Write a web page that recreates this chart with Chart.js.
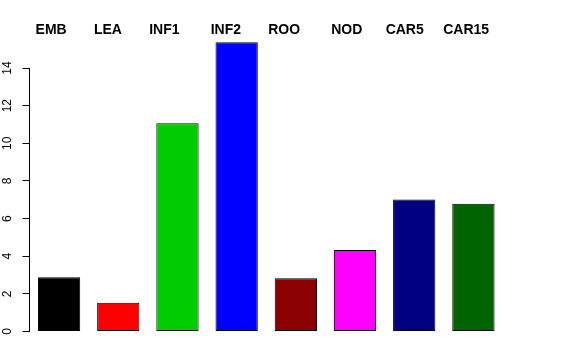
<!DOCTYPE html>
<html>
<head>
<meta charset="utf-8">
<script src="https://cdn.jsdelivr.net/npm/chart.js@4"></script>
<style>
  html, body { margin: 0; padding: 0; background: #fff; }
  #wrap { width: 576px; height: 360px; }
</style>
</head>
<body>
<div id="wrap"><canvas id="bars" width="576" height="360"></canvas></div>
<script>
const categories = ['EMB', 'LEA', 'INF1', 'INF2', 'ROO', 'NOD', 'CAR5', 'CAR15'];
const values = [2.88, 1.53, 11.06, 15.37, 2.83, 4.33, 7.02, 6.79];
const barColors = ['#000000', '#ff0000', '#00cd00', '#0000ff', '#8b0000', '#ff00ff', '#000080', '#006400'];
const yTicks = [0, 2, 4, 6, 8, 10, 12, 14];
const titleGaps = [7, 7, 8, 7, 8, 6, 5];

// R-style title: all names in one bold string separated by runs of spaces
let titleText = categories[0];
for (let i = 1; i < categories.length; i++) {
  titleText += ' '.repeat(titleGaps[i - 1]) + categories[i];
}
titleText += '  ';

const FONT = '"Liberation Sans", Arial, Helvetica, sans-serif';

// axis line from first to last tick, plus labels turned 90 degrees
const rAxis = {
  id: 'rAxis',
  afterDraw(chart) {
    const ctx = chart.ctx;
    const y = chart.scales.y;
    const x0 = chart.chartArea.left;
    ctx.save();
    ctx.strokeStyle = '#000';
    ctx.lineWidth = 1;
    ctx.beginPath();
    ctx.moveTo(x0, y.getPixelForValue(yTicks[0]));
    ctx.lineTo(x0, y.getPixelForValue(yTicks[yTicks.length - 1]));
    ctx.stroke();
    ctx.fillStyle = '#000';
    ctx.font = '12px ' + FONT;
    ctx.textAlign = 'center';
    ctx.textBaseline = 'middle';
    yTicks.forEach(v => {
      ctx.save();
      ctx.translate(7.5, y.getPixelForValue(v));
      ctx.rotate(-Math.PI / 2);
      ctx.fillText(String(v), 0, 0);
      ctx.restore();
    });
    ctx.restore();
  }
};

new Chart(document.getElementById('bars'), {
  type: 'bar',
  data: {
    labels: categories,
    datasets: [{
      data: values,
      backgroundColor: barColors,
      borderColor: '#000',
      borderWidth: 1,
      borderSkipped: false,
      barPercentage: 1 / 1.4,
      categoryPercentage: 1
    }]
  },
  options: {
    responsive: false,
    animation: false,
    layout: { padding: { left: 22.5, right: 73, top: 0, bottom: 28.5 } },
    plugins: {
      legend: { display: false },
      tooltip: { enabled: false },
      title: {
        display: true,
        text: titleText,
        fullSize: false,
        color: '#000',
        font: { family: FONT, size: 14, weight: 'bold' },
        padding: { top: 21.6, bottom: 1.4 }
      }
    },
    scales: {
      x: { display: false },
      y: {
        min: 0,
        max: 15.5,
        afterBuildTicks(scale) { scale.ticks = yTicks.map(v => ({ value: v })); },
        ticks: { display: false },
        border: { display: false },
        grid: { drawOnChartArea: false, drawTicks: true, tickLength: 7, color: '#000' }
      }
    }
  },
  plugins: [rAxis]
});
</script>
</body>
</html>
